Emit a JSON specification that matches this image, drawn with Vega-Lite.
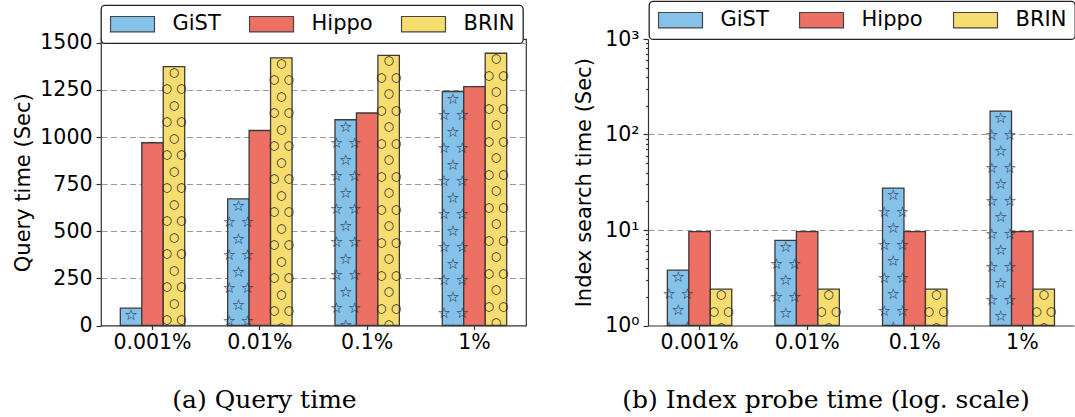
{
  "$schema": "https://vega.github.io/schema/vega-lite/v6.json",
  "padding": {"left": 12, "top": 0, "right": 0, "bottom": 0},
  "background": "white",
  "bounds": "flush",
  "spacing": 122,
  "resolve": {"scale": {"color": "independent"}, "legend": {"color": "independent"}},
  "datasets": {
    "q": [
      {"sel": "0.001%", "idx": "GiST", "v": 92},
      {"sel": "0.001%", "idx": "Hippo", "v": 970},
      {"sel": "0.001%", "idx": "BRIN", "v": 1374},
      {"sel": "0.01%", "idx": "GiST", "v": 672},
      {"sel": "0.01%", "idx": "Hippo", "v": 1035},
      {"sel": "0.01%", "idx": "BRIN", "v": 1420},
      {"sel": "0.1%", "idx": "GiST", "v": 1092},
      {"sel": "0.1%", "idx": "Hippo", "v": 1128},
      {"sel": "0.1%", "idx": "BRIN", "v": 1434},
      {"sel": "1%", "idx": "GiST", "v": 1242},
      {"sel": "1%", "idx": "Hippo", "v": 1268},
      {"sel": "1%", "idx": "BRIN", "v": 1445}
    ],
    "p": [
      {"sel": "0.001%", "idx": "GiST", "v": 3.8},
      {"sel": "0.001%", "idx": "Hippo", "v": 9.6},
      {"sel": "0.001%", "idx": "BRIN", "v": 2.4},
      {"sel": "0.01%", "idx": "GiST", "v": 7.8},
      {"sel": "0.01%", "idx": "Hippo", "v": 9.6},
      {"sel": "0.01%", "idx": "BRIN", "v": 2.4},
      {"sel": "0.1%", "idx": "GiST", "v": 27.5},
      {"sel": "0.1%", "idx": "Hippo", "v": 9.6},
      {"sel": "0.1%", "idx": "BRIN", "v": 2.4},
      {"sel": "1%", "idx": "GiST", "v": 176},
      {"sel": "1%", "idx": "Hippo", "v": 9.6},
      {"sel": "1%", "idx": "BRIN", "v": 2.4}
    ]
  },
  "config": {
    "font": "DejaVu Sans",
    "view": {"stroke": "#333", "strokeWidth": 1.2},
    "axis": {
      "labelFont": "DejaVu Sans", "labelFontSize": 20.5, "labelColor": "#000",
      "titleFont": "DejaVu Sans", "titleFontWeight": "normal", "titleColor": "#000",
      "tickColor": "#333", "domainColor": "#333", "tickWidth": 1.2, "domainWidth": 1.2
    },
    "legend": {
      "orient": "none", "direction": "horizontal", "columns": 3,
      "symbolType": "M-1,-0.35L1,-0.35L1,0.35L-1,0.35Z", "symbolSize": 1936,
      "symbolStrokeColor": "#444", "symbolStrokeWidth": 1.2, "symbolOpacity": 1,
      "clipHeight": 21,
      "labelFont": "DejaVu Sans", "labelFontSize": 21, "labelColor": "#000",
      "labelOffset": 17, "columnPadding": 27, "padding": 8.5,
      "strokeColor": "#222", "strokeWidth": 1.3, "fillColor": "white", "cornerRadius": 4
    }
  },
  "hconcat": [
    {
      "width": 425, "height": 286.5,
      "data": {"name": "q"},
      "encoding": {
        "x": {"field": "sel", "type": "nominal",
          "scale": {"domain": ["0.001%", "0.01%", "0.1%", "1%"], "paddingInner": 0.4, "paddingOuter": 0.18},
          "axis": {"title": "(a) Query time", "labelAngle": 0, "tickSize": 4, "labelPadding": 3, "domain": false,
            "titleFont": "DejaVu Serif", "titleFontSize": 25, "titleX": 163, "titleY": 82,
            "titleAlign": "center", "titleBaseline": "alphabetic"}},
        "xOffset": {"field": "idx", "type": "nominal", "scale": {"domain": ["GiST", "Hippo", "BRIN"], "paddingInner": 0, "paddingOuter": 0}},
        "y": {"field": "v", "type": "quantitative",
          "scale": {"domain": [0, 1520.7], "nice": false},
          "axis": {"title": "Query time (Sec)", "values": [0, 250, 500, 750, 1000, 1250, 1500], "format": "d",
            "grid": true, "gridDash": [6, 3.5], "gridColor": "#999", "gridWidth": 1.1,
            "tickSize": 5, "labelPadding": 4, "titleFontSize": 21, "titlePadding": 6, "domain": false}}
      },
      "layer": [
        {
          "mark": {"type": "bar", "stroke": "#3a3a3a", "strokeWidth": 1.3},
          "encoding": {
            "color": {"field": "idx", "type": "nominal",
              "scale": {"domain": ["GiST", "Hippo", "BRIN"], "range": ["#85C1E9", "#EC7063", "#F7DC6F"]},
              "legend": {"title": null, "legendX": 0, "legendY": -33.8}}
          }
        },
        {
          "transform": [{"filter": "datum.idx === 'GiST'"}],
          "mark": {"type": "text", "clip": true, "baseline": "top", "align": "center", "font": "DejaVu Sans", "fontSize": 15, "lineHeight": 16.5, "color": "#16263a"},
          "encoding": {"text": {"value": ["☆", "☆ ☆", "☆", "☆ ☆", "☆", "☆ ☆", "☆", "☆ ☆", "☆", "☆ ☆", "☆", "☆ ☆", "☆", "☆ ☆", "☆", "☆ ☆", "☆", "☆ ☆"]}}
        },
        {
          "transform": [{"filter": "datum.idx === 'BRIN'"}],
          "mark": {"type": "text", "clip": true, "baseline": "top", "align": "center", "font": "DejaVu Sans", "fontWeight": "bold", "fontSize": 12, "lineHeight": 16.5, "color": "#222"},
          "encoding": {"text": {"value": ["○", "○ ○", "○", "○ ○", "○", "○ ○", "○", "○ ○", "○", "○ ○", "○", "○ ○", "○", "○ ○", "○", "○ ○", "○", "○ ○"]}}
        }
      ]
    },
    {
      "width": 426, "height": 286.5,
      "view": {"stroke": null},
      "data": {"name": "p"},
      "encoding": {
        "x": {"field": "sel", "type": "nominal",
          "scale": {"domain": ["0.001%", "0.01%", "0.1%", "1%"], "paddingInner": 0.4, "paddingOuter": 0.18},
          "axis": {"title": "(b) Index probe time (log. scale)", "labelAngle": 0, "tickSize": 4, "labelPadding": 3, "domain": true,
            "titleFont": "DejaVu Serif", "titleFontSize": 25, "titleX": 177.6, "titleY": 82,
            "titleAlign": "center", "titleBaseline": "alphabetic"}},
        "xOffset": {"field": "idx", "type": "nominal", "scale": {"domain": ["GiST", "Hippo", "BRIN"], "paddingInner": 0, "paddingOuter": 0}},
        "y": {"field": "v", "type": "quantitative",
          "scale": {"type": "log", "domain": [1, 1000], "nice": false},
          "axis": {"title": "Index search time (Sec)",
            "values": [1, 2, 3, 4, 5, 6, 7, 8, 9, 10, 20, 30, 40, 50, 60, 70, 80, 90, 100, 200, 300, 400, 500, 600, 700, 800, 900, 1000],
            "labelExpr": "datum.value === 1 ? '10⁰' : datum.value === 10 ? '10¹' : datum.value === 100 ? '10²' : datum.value === 1000 ? '10³' : ''",
            "grid": true, "gridDash": [6, 3.5], "gridColor": "#999", "gridWidth": 1.1,
            "gridOpacity": {"condition": {"test": "datum.value === 10 || datum.value === 100", "value": 1}, "value": 0},
            "tickSize": {"condition": {"test": "datum.value === 1 || datum.value === 10 || datum.value === 100 || datum.value === 1000", "value": 5}, "value": 2.5},
            "labelPadding": 4, "titleFontSize": 21, "titlePadding": 10, "domain": true}}
      },
      "layer": [
        {
          "mark": {"type": "bar", "stroke": "#3a3a3a", "strokeWidth": 1.3},
          "encoding": {
            "y2": {"datum": 1},
            "color": {"field": "idx", "type": "nominal",
              "scale": {"domain": ["GiST", "Hippo", "BRIN"], "range": ["#85C1E9", "#EC7063", "#F7DC6F"]},
              "legend": {"title": null, "legendX": 1, "legendY": -37.8, "columnPadding": 29}}
          }
        },
        {
          "transform": [{"filter": "datum.idx === 'GiST'"}],
          "mark": {"type": "text", "clip": true, "baseline": "top", "align": "center", "font": "DejaVu Sans", "fontSize": 15, "lineHeight": 16.5, "color": "#16263a"},
          "encoding": {"text": {"value": ["☆", "☆ ☆", "☆", "☆ ☆", "☆", "☆ ☆", "☆", "☆ ☆", "☆", "☆ ☆", "☆", "☆ ☆", "☆", "☆ ☆", "☆", "☆ ☆", "☆", "☆ ☆"]}}
        },
        {
          "transform": [{"filter": "datum.idx === 'BRIN'"}],
          "mark": {"type": "text", "clip": true, "baseline": "top", "align": "center", "font": "DejaVu Sans", "fontWeight": "bold", "fontSize": 12, "lineHeight": 16.5, "color": "#222"},
          "encoding": {"text": {"value": ["○", "○ ○", "○", "○ ○", "○", "○ ○", "○", "○ ○", "○", "○ ○", "○", "○ ○", "○", "○ ○", "○", "○ ○", "○", "○ ○"]}}
        }
      ]
    }
  ]
}
